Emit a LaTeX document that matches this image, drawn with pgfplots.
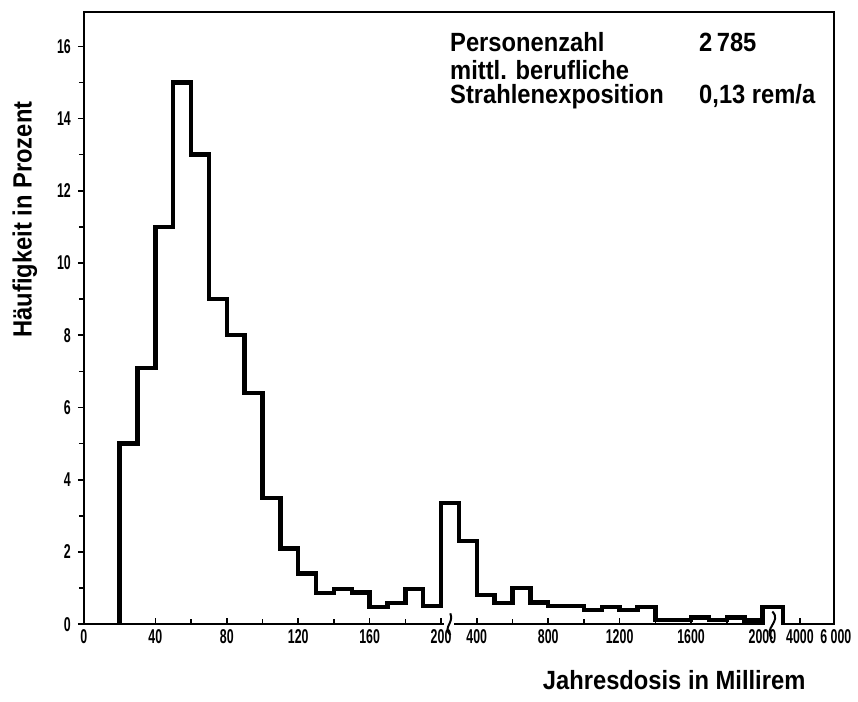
\documentclass[border=0pt]{standalone}
\usepackage{fontspec}
\setmainfont{Liberation Sans}[FakeStretch=0.86]
\newfontfamily\labfont{Liberation Sans}[FakeStretch=0.9]
\newfontfamily\tickfont{Liberation Sans}[FakeStretch=0.62]
\usepackage{pgfplots}
\pgfplotsset{compat=1.18}

% x positions are drawn on a broken scale:
%   0..200 mrem as is, 200..2000 mrem at 1/10 (u = 200 + (d-200)/10),
%   beyond 2000: 4000 -> 401, 6000 -> 420
\pgfplotstableread{
u      pct
20     0
20     5.0
30     7.1
40     11.0
50     15.0
60     13.0
70     9.0
80     8.0
90     6.4
100    3.5
110    2.1
120    1.4
130    0.87
140    0.97
150    0.88
160    0.47
170    0.58
180    0.97
190    0.50
200    3.36
210    2.30
220    0.80
230    0.59
240    1.00
250    0.60
260    0.50
270    0.50
280    0.40
290    0.48
300    0.40
310    0.47
320    0.12
330    0.12
340    0.18
350    0.12
360    0.18
370    0.10
380    0.48
391.5  0
}\histdata

\newcommand{\lab}{\labfont\bfseries\fontsize{13.2}{15}\selectfont}

\begin{document}
\begin{tikzpicture}
\begin{axis}[
  scale only axis, width=375.5pt, height=306.5pt,
  xmin=0, xmax=420, ymin=0, ymax=16.95,
  axis line style={line width=1pt},
  xtick={0,40,80,120,160,200,220,260,300,340,380,401,420},
  xticklabels={0,40,80,120,160,200,400,800,1200,1600,2000,4000,\hspace{2pt}6\,000},
  minor xtick={20,60,100,140,180,240,280,320,360},
  ytick={0,2,...,16}, minor ytick={1,3,...,15},
  xtick align=inside, ytick align=outside,
  major tick length=3pt, minor tick length=2.5pt,
  tick style={line width=0.8pt, black},
  xtick pos=bottom, ytick pos=left,
  ticklabel style={font=\tickfont\bfseries\fontsize{10}{11}\selectfont},
  /pgf/number format/assume math mode=true,
  xticklabel style={yshift=1pt},
  clip=false,
]
\addplot[const plot, line width=2.2pt, black] table[x=u, y=pct] {\histdata};

\coordinate (g1a) at (axis cs:201.6,-0.07);
\coordinate (g1b) at (axis cs:207.5,0.07);
\coordinate (g2a) at (axis cs:381.4,-0.07);
\coordinate (g2b) at (axis cs:390.3,0.07);
\coordinate (s1a) at (axis cs:205.2,-0.3);
\coordinate (s1b) at (axis cs:205.2,0.3);
\coordinate (s2a) at (axis cs:385.5,-0.4);
\coordinate (s2b) at (axis cs:385.5,0.35);

\path (rel axis cs:-0.1119,-0.1256) rectangle (rel axis cs:1.0306,1.0196);

\node[anchor=base west, font=\lab] at (rel axis cs:0.479,0.935) {Personenzahl};
\node[anchor=base west, font=\lab] at (rel axis cs:0.811,0.935) {2\,785};
\node[anchor=base west, font=\lab] at (rel axis cs:0.479,0.889) {mittl. berufliche};
\node[anchor=base west, font=\lab] at (rel axis cs:0.479,0.850) {Strahlenexposition};
\node[anchor=base west, font=\lab] at (rel axis cs:0.811,0.850) {0,13 rem/a};

\node[rotate=90, font=\lab] at (rel axis cs:-0.0786,0.661) {Häufigkeit in Prozent};
\node[font=\lab] at (rel axis cs:0.787,-0.092) {Jahresdosis in Millirem};
\end{axis}
% axis breaks
\fill[white] (g1a) rectangle (g1b);
\fill[white] (g2a) rectangle (g2b);
\draw[line width=1pt] (s1a) .. controls ++(-4pt,4pt) and ++(2pt,-5pt) .. (s1b);
\draw[line width=1pt] (s2a) .. controls ++(-5pt,5pt) and ++(5pt,-5pt) .. (s2b);
\end{tikzpicture}
\end{document}
